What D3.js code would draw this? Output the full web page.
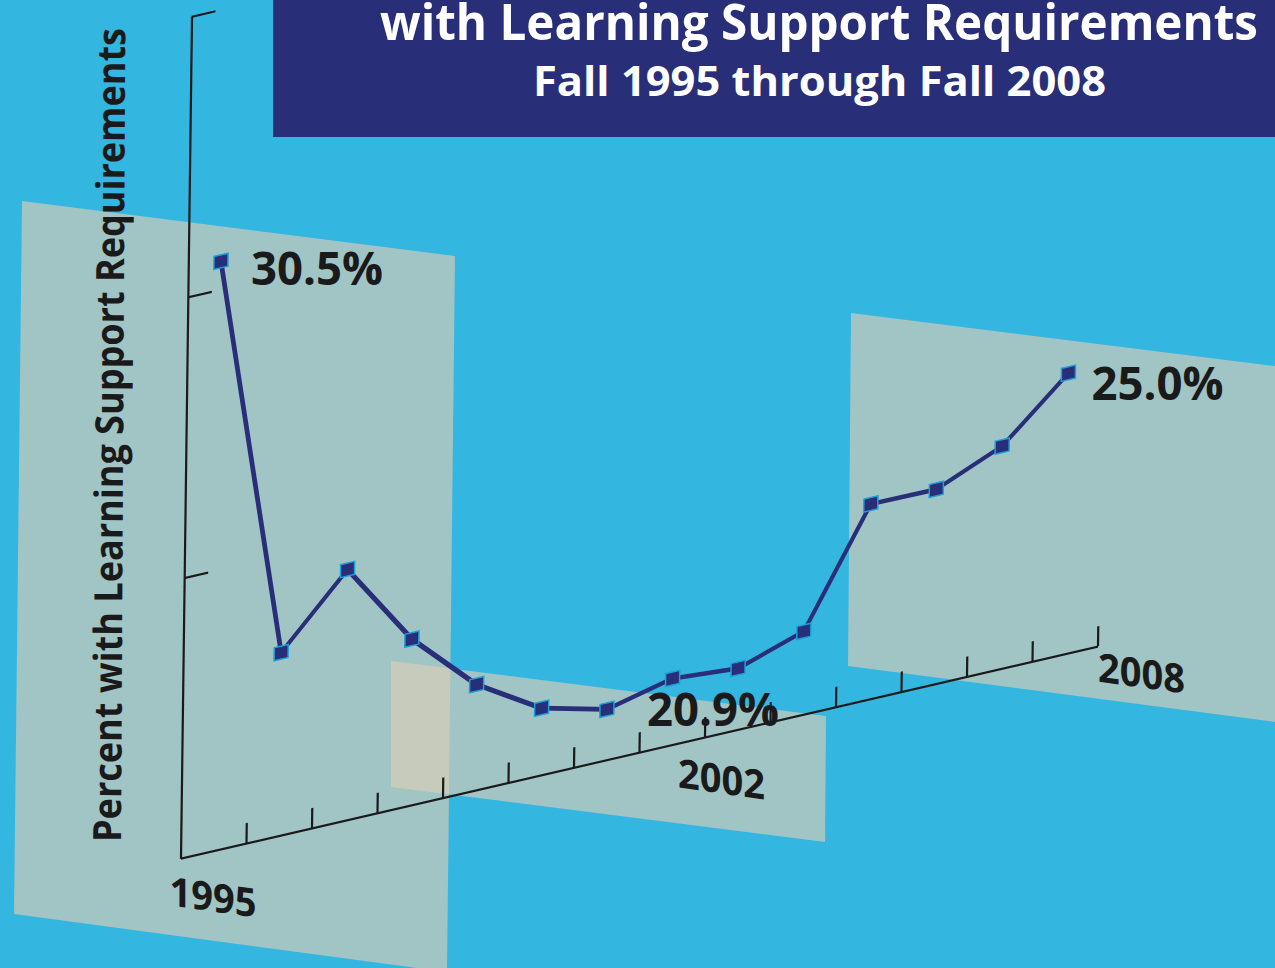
<!DOCTYPE html>
<html>
<head>
<meta charset="utf-8">
<script src="https://cdn.jsdelivr.net/npm/d3@7"></script>
<style>
  html, body { margin: 0; padding: 0; background: #33b6e0; overflow: hidden; }
  svg { display: block; }
  text { font-family: "Open Sans", sans-serif; fill: #1a1a1a; }
</style>
</head>
<body>
<div id="chart"></div>
<script>
// Data
const years = [1995, 1996, 1997, 1998, 1999, 2000, 2001, 2002, 2003, 2004, 2005, 2006, 2007, 2008];
const percents = [30.5, 23.26, 24.47, 22.96, 21.88, 21.19, 20.9, 21.18, 21.09, 21.48, 23.48, 23.47, 23.97, 25.0];
const labelledYears = [1995, 2001, 2008];
const yearTickLabels = [1995, 2002, 2008];
const percentTicks = [25, 30, 35];
const titleLines = ["with Learning Support Requirements", "Fall 1995 through Fall 2008"];
const yAxisTitle = "Percent with Learning Support Requirements";

// Layout
const width = 1275, height = 968;
const origin = {x: 180.5, y: 858.3};
const axisLength = 917, axisHeight = 842;
const rise = 0.2312;   // x axis climbs to the right
const lean = 0.0131;   // y axis leans to the right
const navy = "#282e78", panelFill = "#a1c4c5", overlapFill = "#c6cbbc";

const svg = d3.select("#chart").append("svg")
  .attr("width", width)
  .attr("height", height);

svg.append("rect").attr("width", width).attr("height", height).attr("fill", "#33b6e0");

// Tilted background panels
const panelLeft = [[22, 201], [455, 256], [447, 972], [14, 914]];
const panelMiddle = [[391, 661], [826, 716], [825, 842], [391, 787]];
const panelRight = [[851, 313], [1275, 366], [1275, 722], [848, 666]];
const polyPath = p => "M" + p.join("L") + "Z";

svg.append("clipPath").attr("id", "left-clip")
  .append("path").attr("d", polyPath(panelLeft));

svg.selectAll(".panel")
  .data([panelLeft, panelMiddle, panelRight])
  .join("path")
  .attr("class", "panel")
  .attr("d", polyPath)
  .attr("fill", panelFill);

svg.append("path")
  .attr("d", polyPath(panelMiddle))
  .attr("clip-path", "url(#left-clip)")
  .attr("fill", overlapFill);

// Title banner
svg.append("rect")
  .attr("x", 273).attr("y", 0)
  .attr("width", width - 273).attr("height", 137)
  .attr("fill", navy);

const titleSpecs = [
  {x: 380, y: 40, size: 50, len: 878},
  {x: 533, y: 96, size: 42, len: 573}
];
svg.selectAll(".title")
  .data(titleLines)
  .join("text")
  .attr("class", "title")
  .attr("x", (_, i) => titleSpecs[i].x)
  .attr("y", (_, i) => titleSpecs[i].y)
  .attr("textLength", (_, i) => titleSpecs[i].len)
  .attr("lengthAdjust", "spacingAndGlyphs")
  .style("fill", "#fff")
  .style("font-weight", 700)
  .style("font-size", (_, i) => titleSpecs[i].size + "px")
  .text(d => d);

// Scales work in the flat plane, the group's matrix does the tilting
const x = d3.scaleLinear().domain([1995, 2009]).range([0, axisLength]);
const y = d3.scaleLinear().domain([20, 35]).range([0, -axisHeight]);

const plot = svg.append("g")
  .attr("transform", `matrix(1,${-rise},${-lean},1,${origin.x},${origin.y})`);

// Same mapping as the matrix, for text that must not be sheared
const project = (px, py) => [origin.x + px - lean * py, origin.y - rise * px + py];

// Axes
const xAxis = plot.append("g")
  .call(d3.axisTop(x)
    .tickValues(d3.range(1996, 2010))
    .tickSize(20)
    .tickSizeOuter(0)
    .tickFormat(""));

const yAxis = plot.append("g")
  .call(d3.axisRight(y)
    .tickValues(percentTicks)
    .tickSize(24)
    .tickSizeOuter(0)
    .tickFormat(""));

[xAxis, yAxis].forEach(g => {
  g.selectAll("path, line").attr("stroke", "#1a1a1a").attr("stroke-width", 2.2);
});

// Line and markers
const rows = years.map((year, i) => ({year: year, value: percents[i]}));
const px = d => x(d.year + 0.5);
const py = d => y(d.value);

plot.append("path")
  .datum(rows)
  .attr("fill", "none")
  .attr("stroke", navy)
  .attr("stroke-width", 4.6)
  .attr("stroke-linejoin", "round")
  .attr("d", d3.line().x(px).y(py));

plot.selectAll(".marker")
  .data(rows)
  .join("rect")
  .attr("class", "marker")
  .attr("x", d => px(d) - 7)
  .attr("y", d => py(d) - 6.5)
  .attr("width", 14)
  .attr("height", 13)
  .attr("fill", navy)
  .attr("stroke", "#1d9fd9")
  .attr("stroke-width", 1.5);

// Value labels
const valueNudge = {1995: [30, 24], 2001: [40, 17], 2008: [23, 27]};
svg.selectAll(".value")
  .data(rows.filter(d => labelledYears.includes(d.year)))
  .join("text")
  .attr("class", "value")
  .attr("x", d => project(px(d), py(d))[0] + valueNudge[d.year][0])
  .attr("y", d => project(px(d), py(d))[1] + valueNudge[d.year][1])
  .attr("textLength", 132)
  .attr("lengthAdjust", "spacingAndGlyphs")
  .style("font-size", "46px")
  .style("font-weight", 700)
  .text(d => d.value.toFixed(1) + "%");

// Year labels sit where the designer dropped them, not under the ticks.
// They are sheared, not rotated: digit stems stay upright in the original.
const yearNudge = {1995: [-11, 47], 2002: [39, 35], 2008: [66, 20]};
svg.selectAll(".year")
  .data(yearTickLabels)
  .join("text")
  .attr("class", "year")
  .attr("transform", d => {
    const p = project(x(d), 0);
    return `translate(${p[0] + yearNudge[d][0]},${p[1] + yearNudge[d][1]}) skewY(8)`;
  })
  .attr("textLength", 87)
  .attr("lengthAdjust", "spacingAndGlyphs")
  .style("font-size", "40px")
  .style("font-weight", 700)
  .text(d => d);

// Y axis title
svg.append("text")
  .attr("transform", "translate(121,842) rotate(-89.7)")
  .attr("textLength", 814)
  .attr("lengthAdjust", "spacingAndGlyphs")
  .style("font-size", "39px")
  .style("font-weight", 700)
  .text(yAxisTitle);
</script>
</body>
</html>
